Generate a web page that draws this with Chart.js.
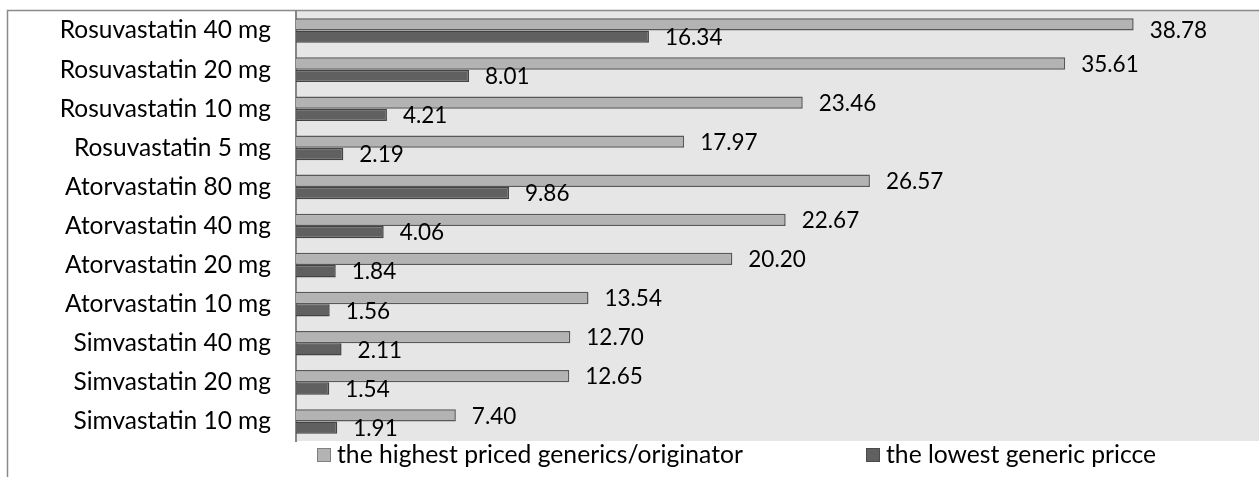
<!DOCTYPE html>
<html>
<head>
<meta charset="utf-8">
<script src="https://cdn.jsdelivr.net/npm/chart.js@4.4.1/dist/chart.umd.min.js"></script>
<style>
  html, body { margin: 0; padding: 0; background: #fff; overflow: hidden; }
  #wrap { width: 1268px; height: 477px; position: relative; }
</style>
</head>
<body>
<div id="wrap"><canvas id="c" width="1268" height="477"></canvas></div>
<script>
// Statin products, top to bottom
const categories = [
  'Rosuvastatin 40 mg', 'Rosuvastatin 20 mg', 'Rosuvastatin 10 mg', 'Rosuvastatin 5 mg',
  'Atorvastatin 80 mg', 'Atorvastatin 40 mg', 'Atorvastatin 20 mg', 'Atorvastatin 10 mg',
  'Simvastatin 40 mg', 'Simvastatin 20 mg', 'Simvastatin 10 mg'
];
const highestPriced = [38.78, 35.61, 23.46, 17.97, 26.57, 22.67, 20.20, 13.54, 12.70, 12.65, 7.40];
const lowestGeneric = [16.34, 8.01, 4.21, 2.19, 9.86, 4.06, 1.84, 1.56, 2.11, 1.54, 1.91];
const seriesNames = ['the highest priced generics/originator', 'the lowest generic pricce'];

const FONT = 'Lato, "Noto Sans", sans-serif';

// Outer frame and grey plot background
const framePlugin = {
  id: 'frame',
  beforeDraw(chart) {
    const { ctx, chartArea: a, width, height } = chart;
    ctx.save();
    ctx.fillStyle = '#e6e6e6';
    ctx.fillRect(a.left, a.top, a.right - a.left, a.bottom - a.top);
    ctx.strokeStyle = '#8a8a8a';
    ctx.lineWidth = 1.5;
    ctx.beginPath();
    ctx.moveTo(7.5, height);
    ctx.lineTo(7.5, 10.5);
    ctx.lineTo(width, 10.5);
    ctx.stroke();
    ctx.restore();
  }
};

// Value labels to the right of each bar, kept inside the plot area
const valueLabels = {
  id: 'valueLabels',
  afterDatasetsDraw(chart) {
    const { ctx, chartArea: a } = chart;
    ctx.save();
    ctx.beginPath();
    ctx.rect(a.left, a.top, a.right - a.left, a.bottom - a.top);
    ctx.clip();
    ctx.font = '22.5px ' + FONT;
    ctx.fillStyle = '#000';
    ctx.textAlign = 'left';
    ctx.textBaseline = 'middle';
    chart.data.datasets.forEach((ds, di) => {
      const meta = chart.getDatasetMeta(di);
      meta.data.forEach((bar, i) => {
        const y = Math.max(bar.y + 1, a.top + 20);
        ctx.fillText(ds.data[i].toFixed(2), bar.x + 16, y);
      });
    });
    ctx.restore();
  }
};

// Legend row under the plot
const legendRow = {
  id: 'legendRow',
  afterDraw(chart) {
    const { ctx } = chart;
    const starts = [317, 866];
    const y = 455;
    ctx.save();
    ctx.font = '24.7px ' + FONT;
    ctx.textBaseline = 'middle';
    ctx.textAlign = 'left';
    chart.data.datasets.forEach((ds, i) => {
      const x = starts[i];
      ctx.fillStyle = ds.backgroundColor;
      ctx.fillRect(x, y - 7, 14, 14);
      ctx.strokeStyle = i === 0 ? '#808080' : '#4a4a4a';
      ctx.lineWidth = 1;
      ctx.strokeRect(x + 0.5, y - 6.5, 13, 13);
      ctx.fillStyle = '#000';
      ctx.fillText(ds.label, x + 20, y);
    });
    ctx.restore();
  }
};

new Chart(document.getElementById('c'), {
  type: 'bar',
  data: {
    labels: categories,
    datasets: [
      {
        label: seriesNames[0],
        data: highestPriced,
        backgroundColor: '#b3b3b3',
        borderColor: '#585858',
        borderWidth: 1.5
      },
      {
        label: seriesNames[1],
        data: lowestGeneric,
        backgroundColor: '#606060',
        borderColor: '#434343',
        borderWidth: 1.5
      }
    ]
  },
  options: {
    indexAxis: 'y',
    responsive: false,
    animation: false,
    devicePixelRatio: 1,
    categoryPercentage: 0.63,
    barPercentage: 1.0,
    layout: { padding: { top: 11, bottom: 36, left: 0, right: 0 } },
    plugins: {
      legend: { display: false },
      tooltip: { enabled: false }
    },
    scales: {
      x: { display: false, min: 0, max: 45 },
      y: {
        grid: { display: false, drawTicks: true, tickLength: 25 },
        border: { display: true, color: '#868686', width: 2 },
        ticks: { font: { family: FONT, size: 24.5 }, color: '#000', padding: 0 },
        afterFit(scale) {
          scale.width = 296;
          scale.paddingTop = 0;
          scale.paddingBottom = 0;
        }
      }
    }
  },
  plugins: [framePlugin, valueLabels, legendRow]
});
</script>
</body>
</html>
